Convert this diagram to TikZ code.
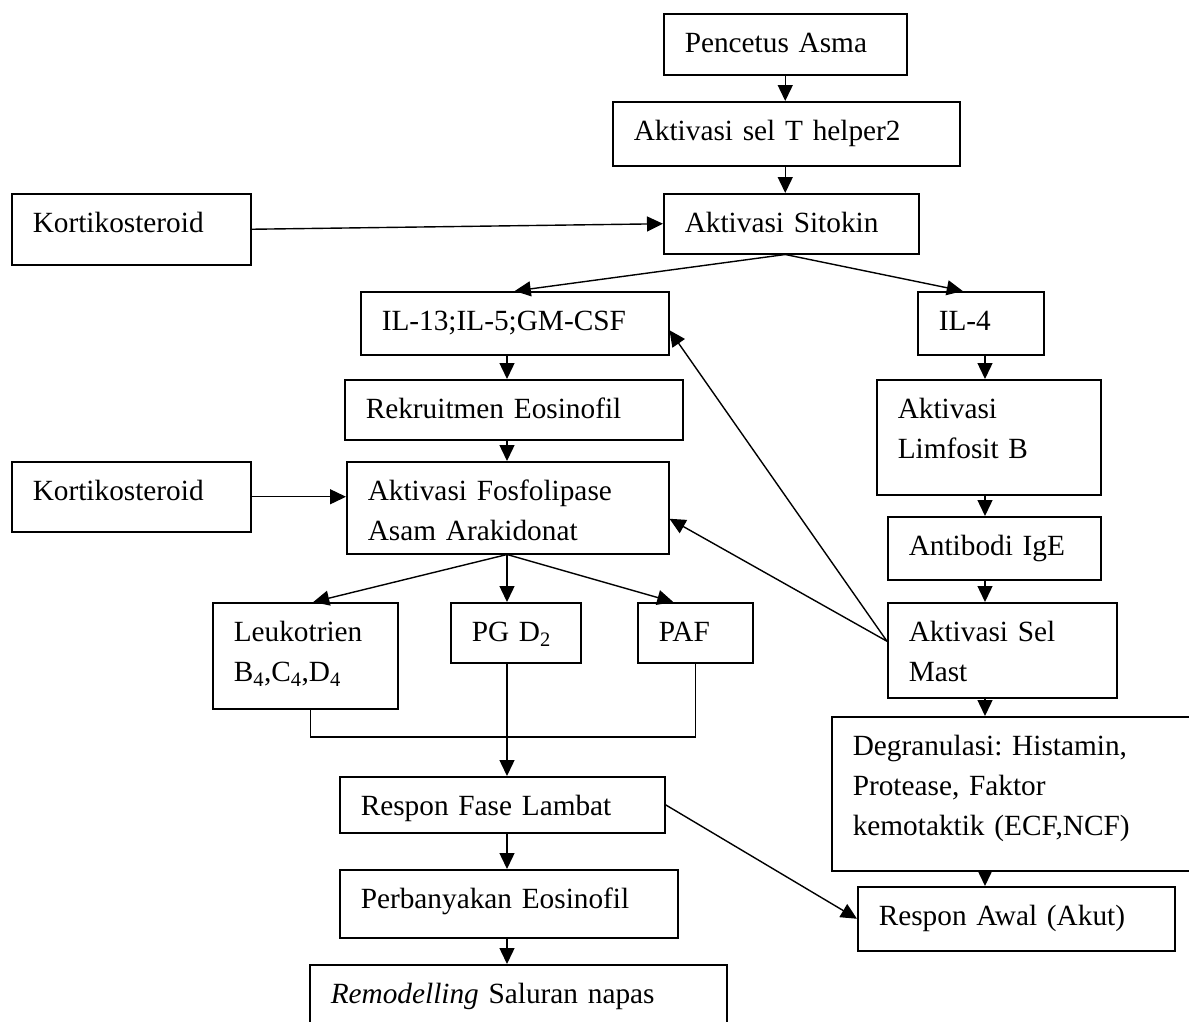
\documentclass[tikz,border=0pt]{standalone}
\usepackage{fontspec}
\setmainfont{Liberation Serif}
\usetikzlibrary{arrows.meta}
\newcommand\flowfont{\fontsize{29.3}{40}\selectfont\frenchspacing}
\tikzset{
  box/.style={draw, line width=1.5pt, anchor=north west, align=left, inner xsep=21pt, inner ysep=0pt, text height=38.5pt, font=\flowfont},
  arr/.style={-{Triangle[length=16pt,width=15pt]}, line width=1.4pt},
  joinline/.style={line width=1.4pt},
}

\begin{document}
\begin{tikzpicture}[x=1pt, y=-1pt]
\useasboundingbox (0,0) rectangle (1189,1021);
\clip (0,0) rectangle (1189,1021);
% main chain
\node[box, text width=201pt, text depth=22.5pt] (pencetus) at (663,13) {Pencetus Asma};
\node[box, text width=305pt, text depth=25.5pt] (thelper) at (612,101) {Aktivasi sel T helper2};
\node[box, text width=197pt, text depth=32.5pt] (kortiA) at (11,193) {Kortikosteroid};
\node[box, text width=213pt, text depth=21.5pt] (sitokin) at (663,193) {Aktivasi Sitokin};
% left branch
\node[box, text width=266pt, text depth=24.5pt] (il13) at (360,291) {IL-13;IL-5;GM-CSF};
\node[box, text width=296pt, text depth=21.5pt] (rekrut) at (344,379) {Rekruitmen Eosinofil};
\node[box, text width=197pt, text depth=31.5pt] (kortiB) at (11,461) {Kortikosteroid};
\node[box, text width=280pt, text depth=53.5pt] (fosfo) at (346,461) {Aktivasi Fosfolipase\\Asam Arakidonat};
\node[box, text width=143pt, text depth=67.5pt] (leuko) at (212,602) {Leukotrien\\B\textsubscript{4},C\textsubscript{4},D\textsubscript{4}};
\node[box, text width=88pt, text depth=21.5pt] (pgd) at (450,602) {PG D\textsubscript{2}};
\node[box, text width=73pt, text depth=21.5pt] (paf) at (637,602) {PAF};
\node[box, text width=283pt, text depth=17.5pt] (lambat) at (339,776) {Respon Fase Lambat};
\node[box, text width=296pt, text depth=29.5pt] (perbanyak) at (339,869) {Perbanyakan Eosinofil};
\node[box, text width=375pt, text depth=61.5pt] (remodel) at (309,964) {\textit{Remodelling} Saluran napas};
% right branch
\node[box, text width=84pt, text depth=24.5pt] (il4) at (917,291) {IL-4};
\node[box, text width=182pt, text depth=76.5pt] (limfB) at (876,379) {Aktivasi\\Limfosit B};
\node[box, text width=171pt, text depth=24.5pt] (ige) at (887,516) {Antibodi IgE};
\node[box, text width=187pt, text depth=56.5pt] (mast) at (887,602) {Aktivasi Sel\\Mast};
\node[box, text width=358pt, text depth=115.5pt] (degran) at (831,716) {Degranulasi: Histamin,\\Protease, Faktor\\kemotaktik (ECF,NCF)};
\node[box, text width=275pt, text depth=25.5pt] (awal) at (857,886) {Respon Awal (Akut)};

\coordinate (mid) at (507,0);
\coordinate (rcol) at (985,0);
\coordinate (split) at (pencetus.south |- sitokin.south);
\coordinate (merge) at (507,737);

\draw[arr] (pencetus.south) -- (pencetus.south |- thelper.north);
\draw[arr] (pencetus.south |- thelper.south) -- (pencetus.south |- sitokin.north);
\draw[arr] (kortiA.east) -- (sitokin.west);
\draw[arr] (split) -- (il13.north);
\draw[arr] (split) -- ([xshift=-18pt]il4.north);
\draw[arr] (mid |- il13.south) -- (mid |- rekrut.north);
\draw[arr] (mid |- rekrut.south) -- (mid |- fosfo.north);
\draw[arr] (kortiB.east) -- (kortiB.east -| fosfo.west);
\draw[arr] (mid |- fosfo.south) -- ([xshift=8pt]leuko.north);
\draw[arr] (mid |- fosfo.south) -- (mid |- pgd.north);
\draw[arr] (mid |- fosfo.south) -- ([xshift=-22pt]paf.north);
\draw[joinline] ([xshift=5pt]leuko.south) |- (merge) -| (paf.south);
\draw[arr] (mid |- pgd.south) -- (mid |- lambat.north);
\draw[arr] (mid |- lambat.south) -- (mid |- perbanyak.north);
\draw[arr] (mid |- perbanyak.south) -- (mid |- remodel.north);
\draw[arr] (rcol |- il4.south) -- (rcol |- limfB.north);
\draw[arr] (rcol |- limfB.south) -- (rcol |- ige.north);
\draw[arr] (rcol |- ige.south) -- (rcol |- mast.north);
\draw[arr] (rcol |- mast.south) -- (rcol |- degran.north);
\draw[arr] (rcol |- degran.south) -- (rcol |- awal.north);
\draw[arr] ([yshift=9pt]mast.west) -- ([yshift=-7pt]il13.east);
\draw[arr] ([yshift=9pt]mast.west) -- ([yshift=-11pt]fosfo.east);
\draw[arr] (lambat.east) -- (awal.west);
\end{tikzpicture}
\end{document}
